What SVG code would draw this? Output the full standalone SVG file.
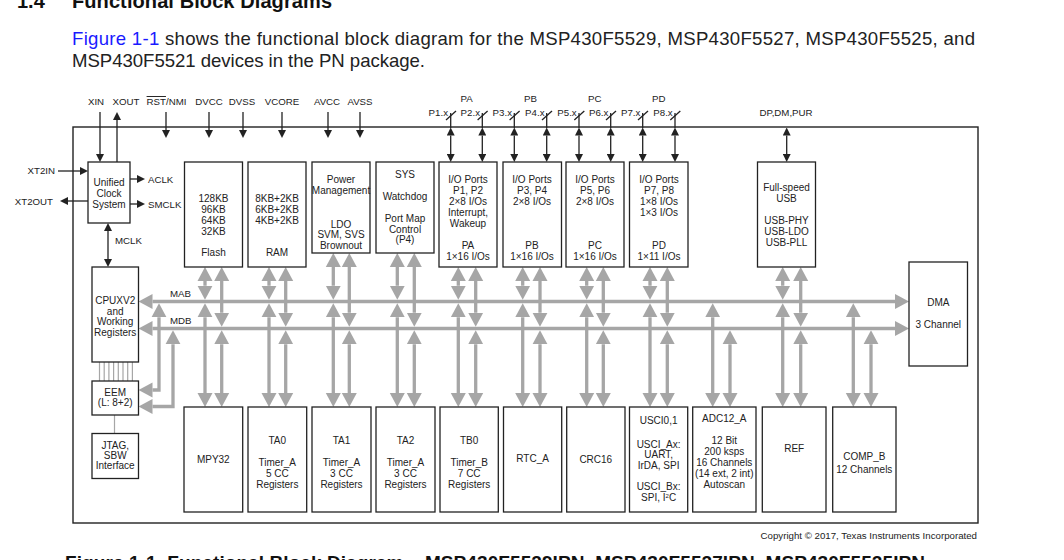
<svg xmlns="http://www.w3.org/2000/svg" width="1064" height="560" viewBox="0 0 1064 560">
<style>
.blk{fill:#fff;stroke:#222;stroke-width:1.3}
.t{font-family:"Liberation Sans",Arial,sans-serif;font-size:10px;fill:#222;text-anchor:middle}
.p{font-family:"Liberation Sans",Arial,sans-serif;font-size:9.7px;fill:#222}
.g{stroke:#a6a6a6;stroke-width:3.3;fill:none}
.gt{stroke:#a6a6a6;stroke-width:1.2;fill:none}
.k{stroke:#222;stroke-width:1.3;fill:none}
.ga{marker-start:url(#ga);marker-end:url(#ga)}
.kb{marker-start:url(#ka);marker-end:url(#ka)}
.ke{marker-end:url(#ka)}
</style>
<defs>
<marker id="ga" viewBox="0 -8 14 16" refX="0" refY="0" markerWidth="14" markerHeight="16" markerUnits="userSpaceOnUse" orient="auto-start-reverse"><path d="M0,-7.5 L14,0 L0,7.5 Z" fill="#a6a6a6"/></marker>
<marker id="ka" viewBox="0 -4 8 8" refX="0" refY="0" markerWidth="8" markerHeight="8" markerUnits="userSpaceOnUse" orient="auto-start-reverse"><path d="M0,-4 L8,0 L0,4 Z" fill="#222"/></marker>
</defs>
<rect width="1064" height="560" fill="#fff"/>
<g id="heading">
<text x="17" y="8" style="font-family:'Liberation Sans',Arial,sans-serif;font-size:20px;font-weight:bold;fill:#111">1.4</text>
<text x="72" y="8" textLength="260" style="font-family:'Liberation Sans',Arial,sans-serif;font-size:20px;font-weight:bold;fill:#111">Functional Block Diagrams</text>
<text x="72" y="44.5" textLength="903" style="font-family:'Liberation Sans',Arial,sans-serif;font-size:18.6px;fill:#222"><tspan fill="#1a1aff">Figure 1-1</tspan> shows the functional block diagram for the MSP430F5529, MSP430F5527, MSP430F5525, and</text>
<text x="72" y="66.5" textLength="353" style="font-family:'Liberation Sans',Arial,sans-serif;font-size:18.6px;fill:#222">MSP430F5521 devices in the PN package.</text>
</g>
<g id="chip">
<rect x="73" y="127" width="905" height="396" fill="none" stroke="#222" stroke-width="1.4"/>
</g>
<g id="connectors">
<line class="k ke" x1="100" y1="112" x2="100" y2="154"/>
<line class="k ke" x1="117" y1="162" x2="117" y2="120"/>
<line class="k ke" x1="166" y1="112" x2="166" y2="130"/>
<line class="k ke" x1="209" y1="112" x2="209" y2="130"/>
<line class="k ke" x1="243" y1="112" x2="243" y2="130"/>
<line class="k ke" x1="282" y1="112" x2="282" y2="130"/>
<line class="k ke" x1="328" y1="112" x2="328" y2="130"/>
<line class="k ke" x1="360" y1="112" x2="360" y2="130"/>
<line class="k ke" x1="58" y1="171" x2="80" y2="171"/>
<line class="k ke" x1="88" y1="201" x2="68" y2="201"/>
<line class="k ke" x1="130" y1="179" x2="137" y2="179"/>
<line class="k ke" x1="130" y1="204" x2="137" y2="204"/>
<line class="k kb" x1="108" y1="231" x2="108" y2="259"/>
<g id="ports">
<line class="k" x1="450.7" y1="113" x2="450.7" y2="128"/><line class="k kb" x1="450.7" y1="135.5" x2="450.7" y2="154"/><line class="k" x1="446" y1="120" x2="456" y2="111"/>
<line class="k" x1="482.3" y1="113" x2="482.3" y2="128"/><line class="k kb" x1="482.3" y1="135.5" x2="482.3" y2="154"/><line class="k" x1="477.6" y1="120" x2="487.6" y2="111"/>
<line class="k" x1="514.3" y1="113" x2="514.3" y2="128"/><line class="k kb" x1="514.3" y1="135.5" x2="514.3" y2="154"/><line class="k" x1="509.6" y1="120" x2="519.6" y2="111"/>
<line class="k" x1="546.7" y1="113" x2="546.7" y2="128"/><line class="k kb" x1="546.7" y1="135.5" x2="546.7" y2="154"/><line class="k" x1="542" y1="120" x2="552" y2="111"/>
<line class="k" x1="579" y1="113" x2="579" y2="128"/><line class="k kb" x1="579" y1="135.5" x2="579" y2="154"/><line class="k" x1="574.3" y1="120" x2="584.3" y2="111"/>
<line class="k" x1="610.7" y1="113" x2="610.7" y2="128"/><line class="k kb" x1="610.7" y1="135.5" x2="610.7" y2="154"/><line class="k" x1="606" y1="120" x2="616" y2="111"/>
<line class="k" x1="642.7" y1="113" x2="642.7" y2="128"/><line class="k kb" x1="642.7" y1="135.5" x2="642.7" y2="154"/><line class="k" x1="638" y1="120" x2="648" y2="111"/>
<line class="k" x1="675" y1="113" x2="675" y2="128"/><line class="k kb" x1="675" y1="135.5" x2="675" y2="154"/><line class="k" x1="670.3" y1="120" x2="680.3" y2="111"/>
<line class="k kb" x1="786.7" y1="135.5" x2="786.7" y2="154"/>
</g>
<line class="g ga" x1="152.5" y1="301.5" x2="895" y2="301.5"/>
<line class="g ga" x1="152.5" y1="328.5" x2="895" y2="328.5"/>
<line class="g ga" x1="205" y1="281" x2="205" y2="285.75"/><line class="g ga" x1="221.7" y1="281" x2="221.7" y2="312.75"/>
<line class="g ga" x1="269" y1="281" x2="269" y2="285.75"/><line class="g ga" x1="285.7" y1="281" x2="285.7" y2="312.75"/>
<line class="g ga" x1="333.3" y1="267" x2="333.3" y2="285.75"/><line class="g ga" x1="349.3" y1="267" x2="349.3" y2="312.75"/>
<line class="g ga" x1="397.3" y1="267" x2="397.3" y2="285.75"/><line class="g ga" x1="414.3" y1="267" x2="414.3" y2="312.75"/>
<line class="g ga" x1="458.3" y1="281" x2="458.3" y2="285.75"/><line class="g ga" x1="475.7" y1="281" x2="475.7" y2="312.75"/>
<line class="g ga" x1="522.7" y1="281" x2="522.7" y2="285.75"/><line class="g ga" x1="540" y1="281" x2="540" y2="312.75"/>
<line class="g ga" x1="586.7" y1="281" x2="586.7" y2="285.75"/><line class="g ga" x1="603.3" y1="281" x2="603.3" y2="312.75"/>
<line class="g ga" x1="650" y1="281" x2="650" y2="285.75"/><line class="g ga" x1="667.3" y1="281" x2="667.3" y2="312.75"/>
<line class="g ga" x1="782.7" y1="281" x2="782.7" y2="285.75"/><line class="g ga" x1="800.7" y1="281" x2="800.7" y2="312.75"/>
<line class="g ga" x1="205" y1="317.25" x2="205" y2="393"/><line class="g ga" x1="221.7" y1="344.25" x2="221.7" y2="393"/>
<line class="g ga" x1="269" y1="317.25" x2="269" y2="393"/><line class="g ga" x1="285.7" y1="344.25" x2="285.7" y2="393"/>
<line class="g ga" x1="333.3" y1="317.25" x2="333.3" y2="393"/><line class="g ga" x1="349.3" y1="344.25" x2="349.3" y2="393"/>
<line class="g ga" x1="397.3" y1="317.25" x2="397.3" y2="393"/><line class="g ga" x1="414.3" y1="344.25" x2="414.3" y2="393"/>
<line class="g ga" x1="458.3" y1="317.25" x2="458.3" y2="393"/><line class="g ga" x1="475.7" y1="344.25" x2="475.7" y2="393"/>
<line class="g ga" x1="522.7" y1="317.25" x2="522.7" y2="393"/><line class="g ga" x1="540" y1="344.25" x2="540" y2="393"/>
<line class="g ga" x1="586.7" y1="317.25" x2="586.7" y2="393"/><line class="g ga" x1="603.3" y1="344.25" x2="603.3" y2="393"/>
<line class="g ga" x1="650" y1="317.25" x2="650" y2="393"/><line class="g ga" x1="667.3" y1="344.25" x2="667.3" y2="393"/>
<line class="g ga" x1="712.7" y1="317.25" x2="712.7" y2="393"/><line class="g ga" x1="730" y1="344.25" x2="730" y2="393"/>
<line class="g ga" x1="782.7" y1="317.25" x2="782.7" y2="393"/><line class="g ga" x1="800.7" y1="344.25" x2="800.7" y2="393"/>
<line class="g ga" x1="853.3" y1="317.25" x2="853.3" y2="393"/><line class="g ga" x1="871" y1="344.25" x2="871" y2="393"/>
<polyline class="g ga" points="159,317.25 159,390 152.5,390"/>
<polyline class="g ga" points="173,344.25 173,406.5 152.5,406.5"/>
<line class="gt" x1="114.5" y1="415" x2="114.5" y2="433" stroke-width="1.8"/>
<g class="gt">
<line x1="99.5" y1="362" x2="99.5" y2="381"/><line x1="104.2" y1="362" x2="104.2" y2="381"/><line x1="108.9" y1="362" x2="108.9" y2="381"/><line x1="113.6" y1="362" x2="113.6" y2="381"/>
<line x1="118.3" y1="362" x2="118.3" y2="381"/><line x1="123" y1="362" x2="123" y2="381"/><line x1="127.7" y1="362" x2="127.7" y2="381"/><line x1="132.4" y1="362" x2="132.4" y2="381"/>
</g>
</g>
<g id="pin-labels" class="p">
<text x="96" y="105" text-anchor="middle">XIN</text>
<text x="126" y="105" text-anchor="middle">XOUT</text>
<text x="166.5" y="105" text-anchor="middle"><tspan style="text-decoration:overline">RST</tspan>/NMI</text>
<text x="209" y="105" text-anchor="middle">DVCC</text>
<text x="242" y="105" text-anchor="middle">DVSS</text>
<text x="282" y="105" text-anchor="middle">VCORE</text>
<text x="327" y="105" text-anchor="middle">AVCC</text>
<text x="360" y="105" text-anchor="middle">AVSS</text>
<text x="55" y="174.3" text-anchor="end">XT2IN</text>
<text x="53" y="205" text-anchor="end">XT2OUT</text>
<text x="148" y="183.3">ACLK</text>
<text x="148" y="208.3">SMCLK</text>
<text x="115" y="244">MCLK</text>
<text x="466.5" y="102" text-anchor="middle">PA</text>
<text x="530.5" y="102" text-anchor="middle">PB</text>
<text x="594.8" y="102" text-anchor="middle">PC</text>
<text x="658.8" y="102" text-anchor="middle">PD</text>
<text x="448" y="116" text-anchor="end">P1.x</text>
<text x="480" y="116" text-anchor="end">P2.x</text>
<text x="512" y="116" text-anchor="end">P3.x</text>
<text x="544.5" y="116" text-anchor="end">P4.x</text>
<text x="576.7" y="116" text-anchor="end">P5.x</text>
<text x="608.4" y="116" text-anchor="end">P6.x</text>
<text x="640.4" y="116" text-anchor="end">P7.x</text>
<text x="672.7" y="116" text-anchor="end">P8.x</text>
<text x="786" y="116" text-anchor="middle">DP,DM,PUR</text>
<text x="170" y="297.3">MAB</text>
<text x="170" y="324.3">MDB</text>
</g>
<g id="ucs"><rect class="blk" x="88" y="162" width="42" height="61"/><text class="t" x="109"><tspan x="109" y="186">Unified</tspan><tspan x="109" y="197">Clock</tspan><tspan x="109" y="207.5">System</tspan></text></g>
<g id="flash"><rect class="blk" x="184.5" y="162" width="58" height="105"/><text class="t"><tspan x="213.5" y="201.5">128KB</tspan><tspan x="213.5" y="212.5">96KB</tspan><tspan x="213.5" y="223.5">64KB</tspan><tspan x="213.5" y="234.5">32KB</tspan><tspan x="213.5" y="255.7">Flash</tspan></text></g>
<g id="ram"><rect class="blk" x="248" y="162" width="58" height="105"/><text class="t"><tspan x="277" y="201.5">8KB+2KB</tspan><tspan x="277" y="212.5">6KB+2KB</tspan><tspan x="277" y="223.5">4KB+2KB</tspan><tspan x="277" y="255.7">RAM</tspan></text></g>
<g id="pmm"><rect class="blk" x="312" y="162" width="58" height="91"/><text class="t"><tspan x="341" y="183.3">Power</tspan><tspan x="341" y="194">Management</tspan><tspan x="341" y="227.5">LDO</tspan><tspan x="341" y="238.3">SVM, SVS</tspan><tspan x="341" y="249.2">Brownout</tspan></text></g>
<g id="sys"><rect class="blk" x="376" y="162" width="58" height="91"/><text class="t"><tspan x="405" y="177.7">SYS</tspan><tspan x="405" y="199.5">Watchdog</tspan><tspan x="405" y="221.7">Port Map</tspan><tspan x="405" y="232.7">Control</tspan><tspan x="405" y="243.3">(P4)</tspan></text></g>
<g id="pa"><rect class="blk" x="439" y="162" width="58" height="105"/><text class="t"><tspan x="468" y="183.3">I/O Ports</tspan><tspan x="468" y="194.3">P1, P2</tspan><tspan x="468" y="205">2×8 I/Os</tspan><tspan x="468" y="216">Interrupt,</tspan><tspan x="468" y="226.7">Wakeup</tspan><tspan x="468" y="249">PA</tspan><tspan x="468" y="260">1×16 I/Os</tspan></text></g>
<g id="pb"><rect class="blk" x="503" y="162" width="58.5" height="105"/><text class="t"><tspan x="532" y="183.3">I/O Ports</tspan><tspan x="532" y="194.3">P3, P4</tspan><tspan x="532" y="205">2×8 I/Os</tspan><tspan x="532" y="249">PB</tspan><tspan x="532" y="260">1×16 I/Os</tspan></text></g>
<g id="pc"><rect class="blk" x="566" y="162" width="58" height="105"/><text class="t"><tspan x="595" y="183.3">I/O Ports</tspan><tspan x="595" y="194.3">P5, P6</tspan><tspan x="595" y="205">2×8 I/Os</tspan><tspan x="595" y="249">PC</tspan><tspan x="595" y="260">1×16 I/Os</tspan></text></g>
<g id="pd"><rect class="blk" x="629.5" y="162" width="58.5" height="105"/><text class="t"><tspan x="659" y="183.3">I/O Ports</tspan><tspan x="659" y="194.3">P7, P8</tspan><tspan x="659" y="205">1×8 I/Os</tspan><tspan x="659" y="216">1×3 I/Os</tspan><tspan x="659" y="249">PD</tspan><tspan x="659" y="260">1×11 I/Os</tspan></text></g>
<g id="usb"><rect class="blk" x="757.5" y="162" width="58" height="105"/><text class="t"><tspan x="786.5" y="191">Full-speed</tspan><tspan x="786.5" y="201.7">USB</tspan><tspan x="786.5" y="224.3">USB-PHY</tspan><tspan x="786.5" y="235">USB-LDO</tspan><tspan x="786.5" y="246">USB-PLL</tspan></text></g>
<g id="dma"><rect class="blk" x="909" y="262" width="58.5" height="104"/><text class="t"><tspan x="938.3" y="305.7">DMA</tspan><tspan x="938.3" y="327.7">3 Channel</tspan></text></g>
<g id="cpu"><rect class="blk" x="92" y="267" width="46.5" height="95"/><text class="t"><tspan x="115.2" y="304">CPUXV2</tspan><tspan x="115.2" y="314.5">and</tspan><tspan x="115.2" y="325">Working</tspan><tspan x="115.2" y="335.7">Registers</tspan></text></g>
<g id="eem"><rect class="blk" x="92" y="381" width="46.5" height="34"/><text class="t"><tspan x="115.2" y="395.5">EEM</tspan><tspan x="115.2" y="406">(L: 8+2)</tspan></text></g>
<g id="jtag"><rect class="blk" x="92" y="433.5" width="46.5" height="45"/><text class="t"><tspan x="115.2" y="449">JTAG,</tspan><tspan x="115.2" y="458.5">SBW</tspan><tspan x="115.2" y="469">Interface</tspan></text></g>
<g id="mpy32"><rect class="blk" x="184" y="407" width="58.7" height="105"/><text class="t" x="213.3" y="463.3">MPY32</text></g>
<g id="ta0"><rect class="blk" x="248" y="407" width="58.7" height="105"/><text class="t"><tspan x="277.3" y="444.3">TA0</tspan><tspan x="277.3" y="465.7">Timer_A</tspan><tspan x="277.3" y="476.7">5 CC</tspan><tspan x="277.3" y="487.7">Registers</tspan></text></g>
<g id="ta1"><rect class="blk" x="312" y="407" width="59" height="105"/><text class="t"><tspan x="341.5" y="444.3">TA1</tspan><tspan x="341.5" y="465.7">Timer_A</tspan><tspan x="341.5" y="476.7">3 CC</tspan><tspan x="341.5" y="487.7">Registers</tspan></text></g>
<g id="ta2"><rect class="blk" x="376" y="407" width="59" height="105"/><text class="t"><tspan x="405.5" y="444.3">TA2</tspan><tspan x="405.5" y="465.7">Timer_A</tspan><tspan x="405.5" y="476.7">3 CC</tspan><tspan x="405.5" y="487.7">Registers</tspan></text></g>
<g id="tb0"><rect class="blk" x="440" y="407" width="58.3" height="105"/><text class="t"><tspan x="469.2" y="444.3">TB0</tspan><tspan x="469.2" y="465.7">Timer_B</tspan><tspan x="469.2" y="476.7">7 CC</tspan><tspan x="469.2" y="487.7">Registers</tspan></text></g>
<g id="rtc"><rect class="blk" x="503.5" y="407" width="58.2" height="105"/><text class="t" x="532.6" y="461.7">RTC_A</text></g>
<g id="crc16"><rect class="blk" x="566.7" y="407" width="58.3" height="105"/><text class="t" x="595.8" y="463.3">CRC16</text></g>
<g id="usci"><rect class="blk" x="629.5" y="407" width="58.2" height="105"/><text class="t"><tspan x="658.6" y="424.3">USCI0,1</tspan><tspan x="658.6" y="447.5">USCI_Ax:</tspan><tspan x="658.6" y="458.3">UART,</tspan><tspan x="658.6" y="468.5">IrDA, SPI</tspan><tspan x="658.6" y="490">USCI_Bx:</tspan><tspan x="658.6" y="501">SPI, I<tspan dy="-3.5" font-size="6">2</tspan><tspan dy="3.5">C</tspan></tspan></text></g>
<g id="adc"><rect class="blk" x="692.7" y="407" width="63.3" height="105"/><text class="t"><tspan x="724.3" y="421.7">ADC12_A</tspan><tspan x="724.3" y="444">12 Bit</tspan><tspan x="724.3" y="455">200 ksps</tspan><tspan x="724.3" y="465.7">16 Channels</tspan><tspan x="724.3" y="476.7">(14 ext, 2 int)</tspan><tspan x="724.3" y="487.7">Autoscan</tspan></text></g>
<g id="ref"><rect class="blk" x="762.3" y="407" width="63.7" height="105"/><text class="t" x="794.2" y="451.7">REF</text></g>
<g id="compb"><rect class="blk" x="832.7" y="407" width="63.3" height="105"/><text class="t"><tspan x="864.3" y="460">COMP_B</tspan><tspan x="864.3" y="473.3">12 Channels</tspan></text></g>
<g id="footer">
<text x="977" y="539" text-anchor="end" style="font-family:'Liberation Sans',Arial,sans-serif;font-size:9.7px;fill:#222">Copyright © 2017, Texas Instruments Incorporated</text>
<text x="65" y="569" textLength="860" style="font-family:'Liberation Sans',Arial,sans-serif;font-size:19px;font-weight:bold;fill:#111">Figure 1-1. Functional Block Diagram – MSP430F5529IPN, MSP430F5527IPN, MSP430F5525IPN</text>
</g>
</svg>
